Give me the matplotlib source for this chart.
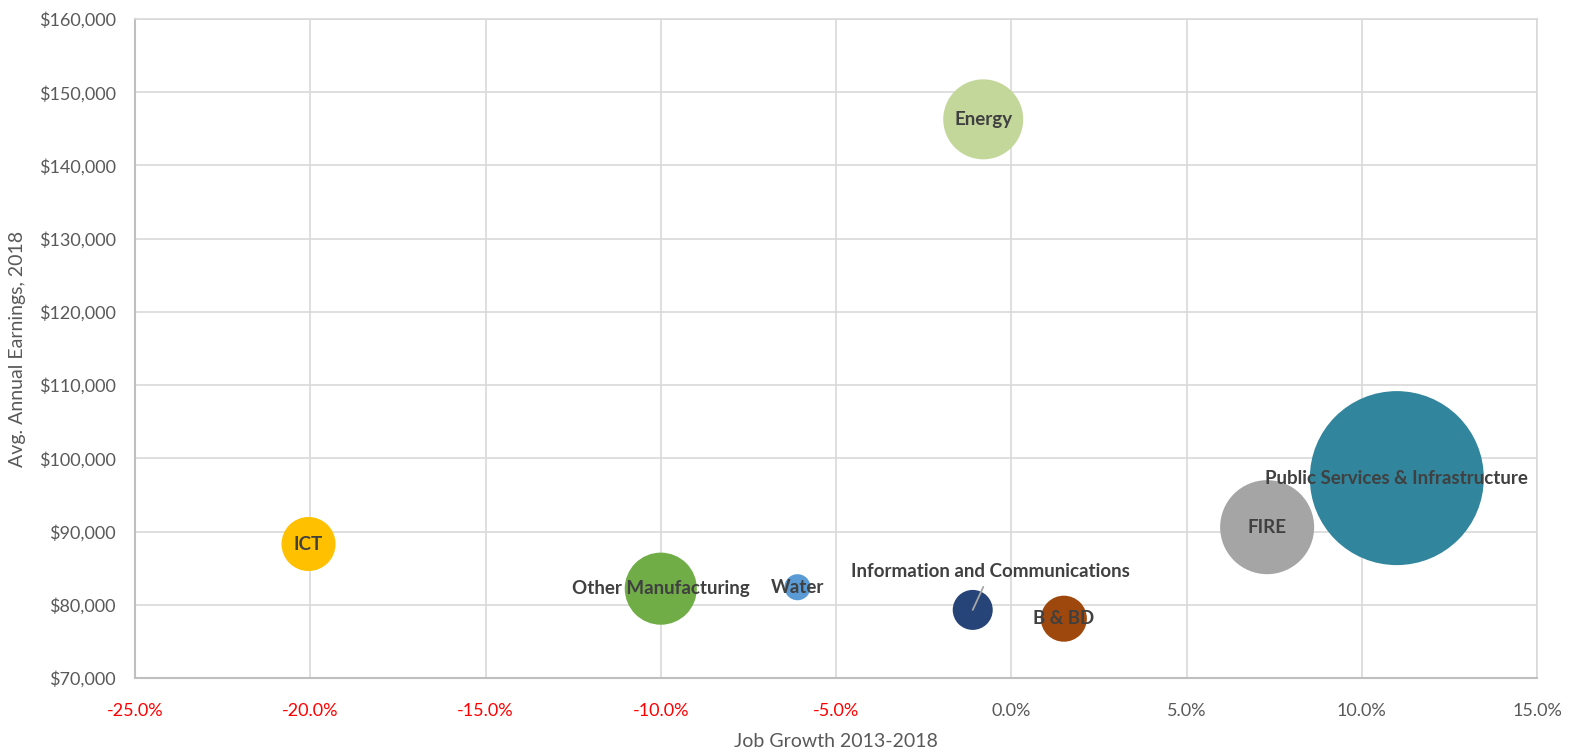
import matplotlib.pyplot as plt
from matplotlib.ticker import FuncFormatter

# industry data
industries = ["ICT", "Other Manufacturing", "Water", "Energy",
              "Information and Communications", "B & BD", "FIRE",
              "Public Services & Infrastructure"]
job_growth = [-20.05, -10.0, -6.1, -0.8, -1.1, 1.5, 7.3, 11.0]
earnings = [88300, 82200, 82400, 146300, 79300, 78100, 90600, 97300]
employment = [730, 1300, 170, 1600, 400, 530, 2210, 7570]
colors = ["#FFC000", "#70AD47", "#5B9BD5", "#C4D79B",
          "#264478", "#9E480E", "#A5A5A5", "#31859C"]

x_ticks = [-25, -20, -15, -10, -5, 0, 5, 10, 15]
y_ticks = list(range(70000, 160001, 10000))

plt.rcParams["font.family"] = ["Lato", "DejaVu Sans"]
grid_c = "#d9d9d9"
text_c = "#595959"

fig = plt.figure(figsize=(15.74, 7.52), dpi=100)
ax = fig.add_axes([0.0858, 0.0984, 0.8907, 0.8763])

# bubble area proportional to employment, largest radius ~87px
max_r = 87 * 0.72
sizes = [(2 * max_r) ** 2 * e / max(employment) for e in employment]
ax.scatter(job_growth, earnings, s=sizes, c=colors, linewidths=0, zorder=3)

for name, x, y in zip(industries, job_growth, earnings):
    if name == "Information and Communications":
        ax.annotate(name, (x, y), xytext=(x + 0.5, y + 5200), ha="center", va="center",
                    fontsize=13.5, fontweight="bold", color="#404040", zorder=5,
                    arrowprops=dict(arrowstyle="-", color="#a6a6a6", lw=1.3,
                                    shrinkA=3, shrinkB=0))
    else:
        ax.text(x, y, name, ha="center", va="center", fontsize=13.5,
                fontweight="bold", color="#404040", zorder=5)

ax.set_xlim(-25, 15)
ax.set_ylim(70000, 160000)
ax.set_xticks(x_ticks)
ax.set_yticks(y_ticks)
ax.xaxis.set_major_formatter(FuncFormatter(lambda v, p: f"{v:.1f}%"))
ax.yaxis.set_major_formatter(FuncFormatter(lambda v, p: f"${v:,.0f}"))
ax.grid(True, color=grid_c, lw=1.2, zorder=0)
ax.set_axisbelow(True)
ax.tick_params(length=0, labelsize=13, colors=text_c)
ax.tick_params(axis="x", pad=18)
ax.tick_params(axis="y", pad=14)
for lbl, v in zip(ax.get_xticklabels(), x_ticks):
    if v < 0:
        lbl.set_color("#FF0000")
for side in ["left", "bottom"]:
    ax.spines[side].set_color("#bfbfbf")
    ax.spines[side].set_linewidth(1.5)
for side in ["top", "right"]:
    ax.spines[side].set_color(grid_c)
    ax.spines[side].set_linewidth(1.2)

ax.set_xlabel("Job Growth 2013-2018", fontsize=14, color=text_c, labelpad=10)
ax.set_ylabel("Avg. Annual Earnings, 2018", fontsize=14, color=text_c)
ax.yaxis.set_label_coords(-0.078, 0.5)

fig.savefig("out.png")
